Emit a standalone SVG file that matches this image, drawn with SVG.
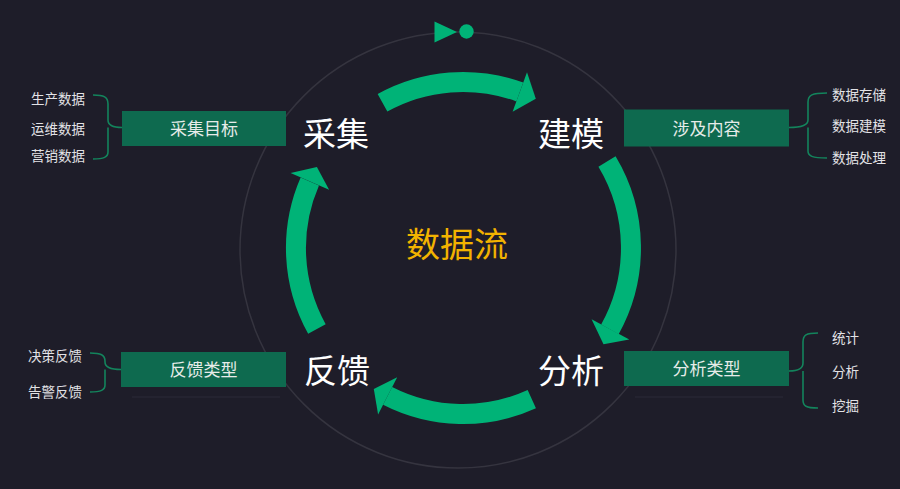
<svg xmlns="http://www.w3.org/2000/svg" width="900" height="489" viewBox="0 0 900 489">
  <defs>
    <style>
      .arc { fill: none; stroke: #00b377; stroke-width: 20; stroke-linecap: butt; }
      .head { fill: #00b377; }
      .box { fill: #0e6a4f; }
      .boxtxt { font-family: "Noto Sans CJK SC", "Noto Sans", sans-serif; font-size: 17px; fill: #e6ece9; text-anchor: middle; }
      .big { font-family: "Noto Sans CJK SC", "Noto Sans", sans-serif; font-size: 33px; fill: #ffffff; text-anchor: middle; }
      .small { font-family: "Noto Sans CJK SC", "Noto Sans", sans-serif; font-size: 13.5px; fill: #e2e2e6; }
      .brace { fill: none; stroke: #13845c; stroke-width: 1.6; }
      .shadow { stroke: #2b2b38; stroke-width: 1; }
    </style>
  </defs>
  <rect x="0" y="0" width="900" height="489" fill="#1e1d29"/>

  <!-- outer thin ring -->
  <circle cx="458" cy="250" r="218" fill="none" stroke="#35343f" stroke-width="1.5"/>

  <!-- top marker -->
  <g id="marker">
    <polygon points="434.5,21.5 434.5,42.5 457,32" fill="#00b377"/>
    <circle cx="466.5" cy="31.5" r="7.2" fill="#00b377"/>
  </g>

  <!-- cycle arrows -->
  <g id="connectors">
    <path class="arc" d="M382.5,102.8 A166,166 0 0 1 519.8,92.0"/>
    <polygon class="head" points="512.6,111.7 527.0,72.3 535.8,98.8"/>
    <path class="arc" d="M607.0,161.5 A168,168 0 0 1 609.9,329.4"/>
    <polygon class="head" points="591.6,319.3 629.3,339.6 603.5,344.2"/>
    <path class="arc" d="M531.8,399.1 A166,166 0 0 1 387.6,395.9"/>
    <polygon class="head" points="397.2,377.2 378.1,414.6 373.8,389.0"/>
    <path class="arc" d="M316.9,329.0 A167,167 0 0 1 309.8,181.4"/>
    <polygon class="head" points="329.1,189.8 290.6,173.0 316.9,167.0"/>

    <!-- braces -->
    <path class="brace" d="M93,95 C104,95 108,97 108,104 L108,120 Q108,127.5 122,127.5 M108,127.5 Q108,127.5 108,135 L108,152 C108,157 104,159 93,159"/>
    <path class="brace" d="M90,353 C101,353 105,355 105,361 L105,362 Q105,369.5 121,369.5 M105,369.5 L105,385 C105,390 101,392 90,392"/>
    <path class="brace" d="M827,93 C812,93 808,95 808,102 L808,120 Q808,127.5 789,127.5 M808,127.5 L808,151 C808,156 812,158 827,158"/>
    <path class="brace" d="M818,333 C806,333 803,335 803,342 L803,363 Q803,371 789,371 M803,371 L803,400 C803,406 806,408 818,408"/>
  </g>

  <!-- center -->
  <g id="center">
    <text x="457" y="256.5" font-family="Noto Sans CJK SC, Noto Sans, sans-serif" font-size="34" fill="#f2b300" text-anchor="middle">数据流</text>
  </g>

  <!-- stage labels -->
  <g id="stage-collect"><text class="big" x="336" y="146">采集</text></g>
  <g id="stage-model"><text class="big" x="571" y="146">建模</text></g>
  <g id="stage-analyze"><text class="big" x="571" y="383">分析</text></g>
  <g id="stage-feedback"><text class="big" x="337" y="383">反馈</text></g>

  <!-- boxes -->
  <g id="box-collect">
    <rect class="box" x="122" y="111" width="164" height="35"/>
    <text class="boxtxt" x="204" y="134.5">采集目标</text>
  </g>
  <g id="box-model">
    <rect class="box" x="624" y="109.5" width="165" height="37"/>
    <text class="boxtxt" x="706.5" y="134.5">涉及内容</text>
  </g>
  <g id="box-analyze">
    <rect class="box" x="624" y="351" width="165" height="35"/>
    <text class="boxtxt" x="706.5" y="375">分析类型</text>
    <line class="shadow" x1="635" y1="397" x2="783" y2="397"/>
  </g>
  <g id="box-feedback">
    <rect class="box" x="121" y="352" width="165" height="35"/>
    <text class="boxtxt" x="203.5" y="376">反馈类型</text>
    <line class="shadow" x1="132" y1="397" x2="280" y2="397"/>
  </g>

  <!-- side lists -->
  <g id="list-collect">
    <text class="small" x="85" y="104" text-anchor="end">生产数据</text>
    <text class="small" x="85" y="134" text-anchor="end">运维数据</text>
    <text class="small" x="85" y="161" text-anchor="end">营销数据</text>
  </g>
  <g id="list-feedback">
    <text class="small" x="82" y="361" text-anchor="end">决策反馈</text>
    <text class="small" x="82" y="396.5" text-anchor="end">告警反馈</text>
  </g>
  <g id="list-model">
    <text class="small" x="832" y="100">数据存储</text>
    <text class="small" x="832" y="131">数据建模</text>
    <text class="small" x="832" y="162.5">数据处理</text>
  </g>
  <g id="list-analyze">
    <text class="small" x="832" y="342.5">统计</text>
    <text class="small" x="832" y="377">分析</text>
    <text class="small" x="832" y="411">挖掘</text>
  </g>
</svg>
